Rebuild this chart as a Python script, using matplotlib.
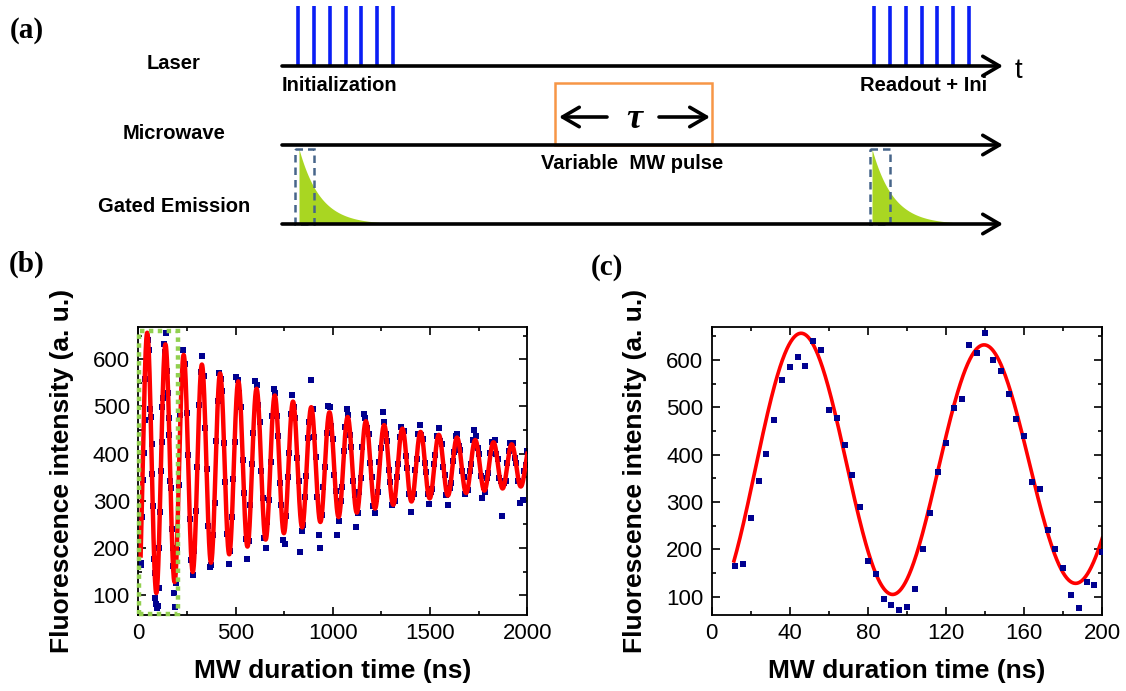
import numpy as np
import matplotlib.pyplot as plt
from matplotlib.patches import Rectangle
from matplotlib.ticker import MultipleLocator

plt.rcParams['font.family'] = ['Liberation Sans', 'DejaVu Sans']

W, H = 1126, 691

# ---- data -------------------------------------------------------------
# (c) Rabi oscillation, first 200 ns (4 ns steps)
t_c = list(range(12, 201, 4))
y_c = [165, 169, 265, 344, 401, 472, 558, 585, 606, 587,
       640, 620, 494, 477, 420, 356, 289, 176, 148, 94,
       82, 72, 77, 115, 200, 277, 364, 425, 498, 518,
       632, 615, 656, 599, 576, 528, 476, 440, 343, 328,
       241, 200, 161, 104, 75, 130, 125, 195]

# (b) remaining points, 208 .. 1000 ns (8 ns steps)
t_b_early = list(range(208, 1001, 8))
y_b_early = [333, 482, 557, 620, 590, 487, 398, 261, 174, 142, 193,
             278, 371, 502, 573, 606, 565, 455, 367, 246, 159, 163, 228,
             295, 426, 511, 571, 559, 533, 422, 339, 230, 167, 194, 266,
             347, 425, 563, 556, 529, 498, 386, 317, 219, 176, 215, 292,
             379, 444, 554, 546, 503, 467, 363, 305, 222, 200, 256, 302,
             383, 479, 538, 528, 479, 437, 337, 291, 216, 209, 267, 350,
             402, 485, 524, 498, 476, 391, 341, 192, 235, 248, 308, 352,
             434, 466, 555, 495, 435, 393, 309, 227, 201, 270, 329, 372,
             443, 501, 498, 459, 430]

# (b) 1008 .. 2000 ns (8 ns steps)
t_b_late = list(range(1008, 2001, 8))
y_b_late = [355, 321, 227, 258, 300, 330, 405,
            456, 494, 481, 440, 413, 343, 312, 245, 275, 319, 348, 415,
            483, 475, 454, 442, 381, 350, 290, 274, 304, 318, 382, 411,
            489, 468, 441, 427, 366, 339, 291, 298, 299, 351, 378, 435,
            457, 447, 447, 394, 370, 315, 277, 309, 314, 365, 388, 442,
            460, 439, 432, 380, 362, 315, 294, 318, 326, 378, 397, 438,
            454, 427, 421, 372, 354, 312, 291, 328, 337, 385, 403, 438,
            442, 417, 408, 364, 350, 314, 325, 323, 364, 379, 428, 451,
            438, 411, 399, 352, 305, 330, 318, 349, 360, 402, 425, 422,
            429, 399, 389, 348, 342, 268, 338, 342, 380, 406, 423, 416,
            423, 391, 381, 343, 295, 338, 301, 364, 375, 405]

# damped-cosine fit
fit_y0 = 374
fit_amp = 295
fit_tau = 1030
fit_period = 93.7
fit_t0 = 46


def rabi_fit(t):
    t = np.asarray(t, dtype=float)
    return fit_y0 + fit_amp * np.exp(-t / fit_tau) * np.cos(2 * np.pi * (t - fit_t0) / fit_period)


navy = '#00008F'
red = '#FF0000'
lime = '#A9D622'
gate_box = '#47658A'
orange = '#F79646'

fig = plt.figure(figsize=(W / 100, H / 100), dpi=100)

# ---- (a) pulse sequence schematic, drawn in pixel coordinates --------
ax_a = fig.add_axes([0, 0, 1, 1])
ax_a.set_xlim(0, W)
ax_a.set_ylim(H, 0)
ax_a.axis('off')

x_start, x_end = 282, 1003
y_laser, y_mw, y_gate = 66, 145, 224
arrow_kw = dict(arrowstyle='->,head_length=0.6,head_width=0.35', lw=2.6, color='k',
                shrinkA=0, shrinkB=0, mutation_scale=20)

# gated emission decays + dashed gate windows
for x0, bx0, bx1 in [(299, 295, 314), (872, 870, 890)]:
    xs = np.linspace(x0, x0 + 80, 120)
    h = 75 * np.exp(-(xs - x0) / 21)
    ax_a.fill_between(xs, y_gate - h, y_gate, color=lime, lw=0, zorder=1)
    ax_a.add_patch(Rectangle((bx0, y_gate - 75), bx1 - bx0, 75, fill=False, ec=gate_box,
                             lw=1.8, ls=(0, (3, 2)), zorder=3))

# laser pulses
for xp in list(np.linspace(298, 393, 7)) + list(np.linspace(874, 969, 7)):
    ax_a.plot([xp, xp], [6, y_laser], color='#0A1EF5', lw=2.6, zorder=2, solid_capstyle='butt')

# variable MW pulse box
ax_a.add_patch(Rectangle((555, 83), 157, y_mw - 83, fill=False, ec=orange, lw=1.8, zorder=2))
ax_a.annotate('', xy=(559, 117), xytext=(607, 117), arrowprops=arrow_kw, zorder=4)
ax_a.annotate('', xy=(710, 117), xytext=(659, 117), arrowprops=arrow_kw, zorder=4)
ax_a.text(634, 119, 'τ', family='Liberation Serif', fontweight='bold', fontstyle='italic',
          fontsize=26, ha='center', va='center')

for yl in (y_laser, y_mw, y_gate):
    ax_a.annotate('', xy=(x_end, yl), xytext=(x_start, yl), arrowprops=arrow_kw, zorder=5)

lab = dict(fontsize=14.5, fontweight='bold', va='center')
ax_a.text(174, 63, 'Laser', ha='center', **lab)
ax_a.text(174, 133, 'Microwave', ha='center', **lab)
ax_a.text(174, 206, 'Gated Emission', ha='center', **lab)
ax_a.text(282, 85, 'Initialization', ha='left', **lab)
ax_a.text(987, 85, 'Readout + Ini', ha='right', **lab)
ax_a.text(632, 163, 'Variable  MW pulse', ha='center', **lab)
ax_a.text(1018, 71, 't', fontsize=20, ha='center', va='center')

# panel letters
for s, (px, py) in {'(a)': (27, 31), '(b)': (27, 264), '(c)': (607, 267)}.items():
    fig.text(px / W, 1 - py / H, s, family='Liberation Serif', fontweight='bold',
             fontsize=21, ha='center', va='center')


def style_axes(ax, xmaj, xmin, ymaj, ymin):
    ax.xaxis.set_major_locator(MultipleLocator(xmaj))
    ax.xaxis.set_minor_locator(MultipleLocator(xmin))
    ax.yaxis.set_major_locator(MultipleLocator(ymaj))
    ax.yaxis.set_minor_locator(MultipleLocator(ymin))
    ax.tick_params(which='both', direction='in', top=True, right=True, width=1.2,
                   labelsize=16, pad=6)
    ax.tick_params(which='major', length=6)
    ax.tick_params(which='minor', length=3)
    for sp in ax.spines.values():
        sp.set_linewidth(1.3)
    ax.set_xlabel('MW duration time (ns)', fontsize=19, fontweight='bold')
    ax.set_ylabel('Fluorescence intensity (a. u.)', fontsize=19, fontweight='bold')
    ax.xaxis.set_label_coords(0.5, -0.153)
    ax.yaxis.set_label_coords(-0.165, 0.5)


# ---- (b) full Rabi trace ---------------------------------------------
ax_b = fig.add_axes([138.3 / W, 1 - 615 / H, 389 / W, 288.3 / H])
t_b = t_c + t_b_early + t_b_late
y_b = y_c + y_b_early + y_b_late
ax_b.scatter(t_b, y_b, s=20, marker='s', color=navy, lw=0, zorder=2)
tt = np.linspace(t_c[0], 2000, 3000)
ax_b.plot(tt, rabi_fit(tt), color=red, lw=3.2, zorder=3)
ax_b.add_patch(Rectangle((5, 61), 197, 598, fill=False, ec='#92D050', lw=3.2,
                         ls=(0, (1, 1)), zorder=4, clip_on=False))
ax_b.set_xlim(0, 2000)
ax_b.set_ylim(58, 669)
style_axes(ax_b, 500, 250, 100, 50)

# ---- (c) zoom on first 200 ns ----------------------------------------
ax_c = fig.add_axes([711.7 / W, 1 - 615 / H, 390.6 / W, 288.3 / H])
tc = np.linspace(t_c[0] - 0.6, 200, 800)
ax_c.plot(tc, rabi_fit(tc), color=red, lw=2.6, zorder=2)
ax_c.scatter(t_c, y_c, s=20, marker='s', color=navy, lw=0, zorder=3)
ax_c.set_xlim(0, 200)
ax_c.set_ylim(61, 670)
style_axes(ax_c, 40, 20, 100, 50)

fig.savefig('out.png', dpi=100)
